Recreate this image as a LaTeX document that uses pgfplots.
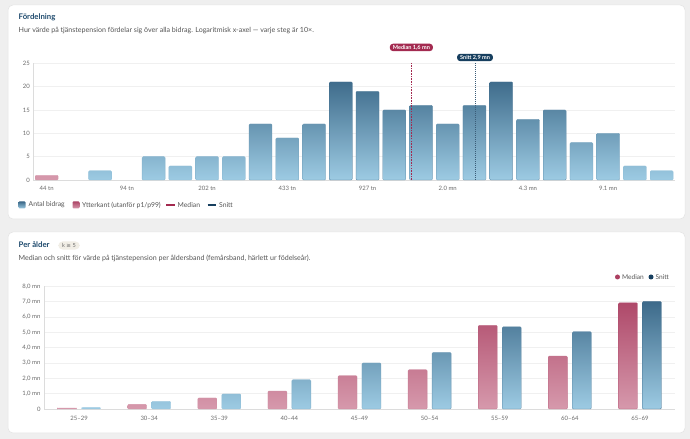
\documentclass[border=0pt]{standalone}
\usepackage{fontspec}
\setmainfont{Lato}
\newfontfamily\dejavu{DejaVu Sans}
\usepackage{pgfplots}
\pgfplotsset{compat=1.18}
\definecolor{bg}{HTML}{EFEFEF}
\definecolor{cardline}{HTML}{E3E3E3}
\definecolor{navy}{HTML}{1F4B6E}
\definecolor{barD}{HTML}{3A6787}
\definecolor{barL}{HTML}{9DCBE3}
\definecolor{pinkD}{HTML}{AD4667}
\definecolor{pinkL}{HTML}{D699AC}
\definecolor{medc}{HTML}{A32A50}
\definecolor{snc}{HTML}{173F5F}
\definecolor{txt}{HTML}{555555}
\definecolor{tickc}{HTML}{6A6A6A}
\definecolor{gridc}{HTML}{F0F0F0}
\definecolor{axc}{HTML}{DCDCDC}
\definecolor{badge}{HTML}{F1EEE6}

% gradient bar: #1 dark, #2 light, #3 width, #4 x, #5 y, #6 value for full dark
\newcommand\gbar[6]{%
 \pgfmathtruncatemacro\pct{min(100,100*#5/#6)}%
 \edef\tmp{\noexpand\addplot[ybar, bar shift=0pt, bar width=#3, draw=#1!\pct!#2, line width=0.3bp, rounded corners=1bp, top color=#1!\pct!#2, bottom color=#2] coordinates {(#4,#5)};}\tmp}

\begin{document}
\begin{tikzpicture}
\begin{scope}[x=1bp,y=1bp]
% background and cards
\fill[bg] (0,0) rectangle (690,439);
\filldraw[fill=white, draw=cardline, line width=0.5bp, rounded corners=5bp] (8,220) rectangle (685,434);
\filldraw[fill=white, draw=cardline, line width=0.5bp, rounded corners=5bp] (8,6) rectangle (685,207);

% titles panel 1
\node[anchor=west, inner sep=0, text=navy, font=\fontsize{7.8}{9}\selectfont\bfseries] at (18.5,421.5) {Fördelning};
\node[anchor=west, inner sep=0, text=txt, font=\fontsize{7.1}{8}\selectfont] at (18.5,408.5) {Hur värde på tjänstepension fördelar sig över alla bidrag. Logaritmisk x-axel — varje steg är 10×.};

% legend panel 1
\shade[top color=barD, bottom color=barL, rounded corners=1bp] (18.5,230.5) rectangle (25.5,237.5);
\node[anchor=west, inner sep=0, text=txt, font=\fontsize{6.8}{8}\selectfont] at (28.5,234) {Antal bidrag};
\shade[top color=pinkD, bottom color=pinkL, rounded corners=1bp] (72.5,230.5) rectangle (79.5,237.5);
\node[anchor=west, inner sep=0, text=txt, font=\fontsize{6.8}{8}\selectfont] at (82,234) {Ytterkant (utanför p1/p99)};
\draw[medc, line width=1.1bp] (166,234) -- (174.5,234);
\node[anchor=west, inner sep=0, text=txt, font=\fontsize{6.8}{8}\selectfont] at (177.5,234) {Median};
\draw[snc, line width=1.1bp] (207.5,234) -- (216,234);
\node[anchor=west, inner sep=0, text=txt, font=\fontsize{6.8}{8}\selectfont] at (219,234) {Snitt};

% titles panel 2
\node[anchor=west, inner sep=0, text=navy, font=\fontsize{7.8}{9}\selectfont\bfseries] at (18.5,194) {Per ålder};
\node[fill=badge, text=tickc, rounded corners=4.5bp, inner xsep=4bp, inner ysep=2bp, font=\fontsize{5.6}{6}\selectfont] at (69,193.5) {k {\dejavu ≥} 5};
\node[anchor=west, inner sep=0, text=txt, font=\fontsize{7.1}{8}\selectfont] at (18.5,181) {Median och snitt för värde på tjänstepension per åldersband (femårsband, härlett ur födelseår).};

% legend panel 2
\fill[medc!90!white] (617.5,162) circle (2.5bp);
\node[anchor=west, inner sep=0, text=txt, font=\fontsize{6.6}{8}\selectfont] at (622,162) {Median};
\fill[snc] (651,162) circle (2.5bp);
\node[anchor=west, inner sep=0, text=txt, font=\fontsize{6.6}{8}\selectfont] at (655.5,162) {Snitt};
\end{scope}

\begin{axis}[
  at={(33.3bp,259bp)}, anchor=south west, scale only axis,
  width=641.7bp, height=116.7bp,
  xmin=-0.5, xmax=23.5, ymin=0, ymax=25,
  ytick={0,5,...,25},
  xtick={0,3,...,21},
  xticklabels={44 tn,94 tn,202 tn,433 tn,927 tn,2.0 mn,4.3 mn,9.1 mn},
  ymajorgrids, grid style={gridc, line width=0.5bp},
  separate axis lines, axis x line*=bottom, axis y line*=left,
  x axis line style={-, axc, line width=0.6bp},
  y axis line style={-, axc, line width=0.6bp},
  major tick length=0pt,
  tick label style={font=\fontsize{6}{7}\selectfont, text=tickc},
  xticklabel style={yshift=-3bp},
  /pgf/number format/assume math mode=true,
  clip=false,
]
\gbar{pinkD}{pinkL}{0.86}{0}{1}{22}
\gbar{barD}{barL}{0.86}{2}{2}{22}
\gbar{barD}{barL}{0.86}{4}{5}{22}
\gbar{barD}{barL}{0.86}{5}{3}{22}
\gbar{barD}{barL}{0.86}{6}{5}{22}
\gbar{barD}{barL}{0.86}{7}{5}{22}
\gbar{barD}{barL}{0.86}{8}{12}{22}
\gbar{barD}{barL}{0.86}{9}{9}{22}
\gbar{barD}{barL}{0.86}{10}{12}{22}
\gbar{barD}{barL}{0.86}{11}{21}{22}
\gbar{barD}{barL}{0.86}{12}{19}{22}
\gbar{barD}{barL}{0.86}{13}{15}{22}
\gbar{barD}{barL}{0.86}{14}{16}{22}
\gbar{barD}{barL}{0.86}{15}{12}{22}
\gbar{barD}{barL}{0.86}{16}{16}{22}
\gbar{barD}{barL}{0.86}{17}{21}{22}
\gbar{barD}{barL}{0.86}{18}{13}{22}
\gbar{barD}{barL}{0.86}{19}{15}{22}
\gbar{barD}{barL}{0.86}{20}{8}{22}
\gbar{barD}{barL}{0.86}{21}{10}{22}
\gbar{barD}{barL}{0.86}{22}{3}{22}
\gbar{barD}{barL}{0.86}{23}{2}{22}
\addplot[draw=medc, line width=0.65bp, dash pattern=on 1.6bp off 1.1bp] coordinates {(13.64,0) (13.64,25)};
\addplot[draw=snc!85!white, line width=0.9bp, dash pattern=on 1bp off 1bp] coordinates {(16.02,0) (16.02,25)};
\node[fill=medc, text=white, rounded corners=3bp, inner xsep=3bp, inner ysep=1.2bp, font=\fontsize{5.6}{6}\selectfont\bfseries] at (axis cs:13.64,28.4) {Median 1,6 mn};
\node[fill=snc, text=white, rounded corners=3bp, inner xsep=3bp, inner ysep=1.2bp, font=\fontsize{5.6}{6}\selectfont\bfseries] at (axis cs:16.02,26.25) {Snitt 2,9 mn};
\end{axis}

\begin{axis}[
  at={(44bp,30bp)}, anchor=south west, scale only axis,
  width=631bp, height=122.7bp,
  xmin=-0.5, xmax=8.5, ymin=0, ymax=8,
  ytick={0,1,...,8},
  yticklabels={0,{1,0 mn},{2,0 mn},{3,0 mn},{4,0 mn},{5,0 mn},{6,0 mn},{7,0 mn},{8,0 mn}},
  xtick={0,1,...,8},
  xticklabels={25–29,30–34,35–39,40–44,45–49,50–54,55–59,60–64,65–69},
  ymajorgrids, grid style={gridc, line width=0.5bp},
  separate axis lines, axis x line*=bottom, axis y line*=left,
  x axis line style={-, axc, line width=0.6bp},
  y axis line style={-, axc, line width=0.6bp},
  major tick length=0pt,
  tick label style={font=\fontsize{6}{7}\selectfont, text=tickc},
  xticklabel style={yshift=-3.5bp},
  /pgf/number format/assume math mode=true,
  clip=false,
]
% Median (pink)
\gbar{pinkD}{pinkL}{0.271}{-0.171}{0.06}{7.2}
\gbar{pinkD}{pinkL}{0.271}{0.829}{0.30}{7.2}
\gbar{pinkD}{pinkL}{0.271}{1.829}{0.72}{7.2}
\gbar{pinkD}{pinkL}{0.271}{2.829}{1.17}{7.2}
\gbar{pinkD}{pinkL}{0.271}{3.829}{2.17}{7.2}
\gbar{pinkD}{pinkL}{0.271}{4.829}{2.56}{7.2}
\gbar{pinkD}{pinkL}{0.271}{5.829}{5.45}{7.2}
\gbar{pinkD}{pinkL}{0.271}{6.829}{3.45}{7.2}
\gbar{pinkD}{pinkL}{0.271}{7.829}{6.92}{7.2}
% Snitt (blue)
\gbar{barD}{barL}{0.271}{0.171}{0.10}{7.2}
\gbar{barD}{barL}{0.271}{1.171}{0.50}{7.2}
\gbar{barD}{barL}{0.271}{2.171}{0.98}{7.2}
\gbar{barD}{barL}{0.271}{3.171}{1.91}{7.2}
\gbar{barD}{barL}{0.271}{4.171}{3.00}{7.2}
\gbar{barD}{barL}{0.271}{5.171}{3.69}{7.2}
\gbar{barD}{barL}{0.271}{6.171}{5.36}{7.2}
\gbar{barD}{barL}{0.271}{7.171}{5.04}{7.2}
\gbar{barD}{barL}{0.271}{8.171}{7.01}{7.2}
\end{axis}
\end{tikzpicture}
\end{document}
